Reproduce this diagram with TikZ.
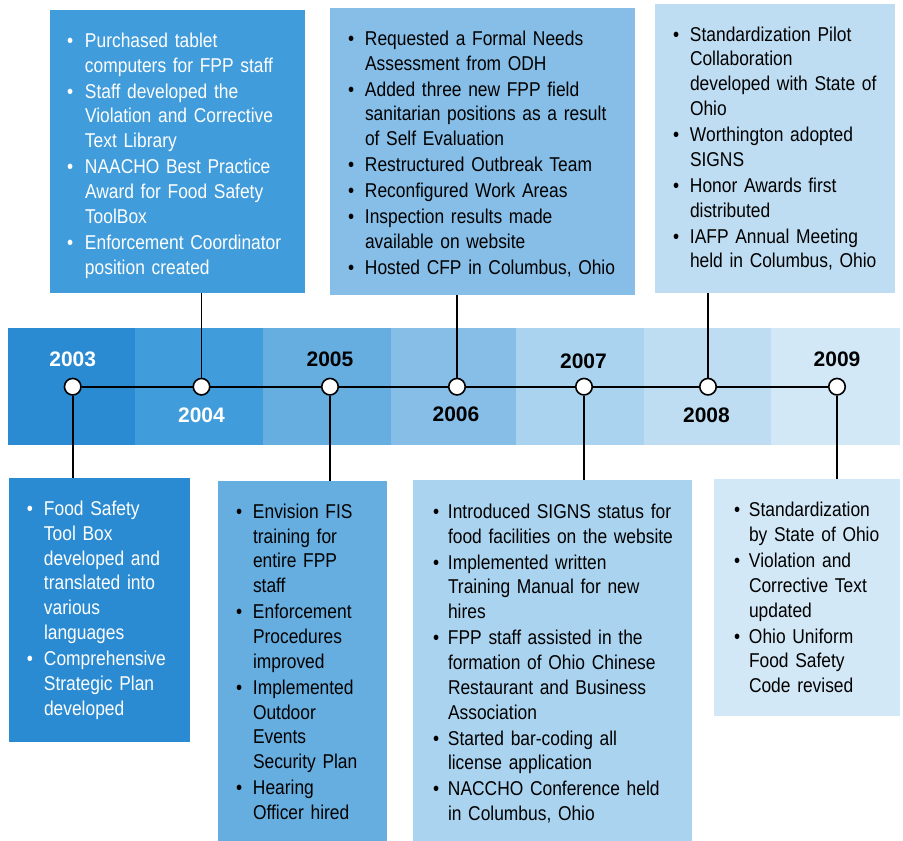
\documentclass[tikz,border=0pt]{standalone}
\usepackage{fontspec}
\setmainfont{Liberation Sans}[FakeStretch=0.87]
\newfontfamily\yearfont{Liberation Sans}
\usetikzlibrary{backgrounds}
\definecolor{cA}{HTML}{2A8BD2}
\definecolor{cB}{HTML}{409CDB}
\definecolor{cC}{HTML}{66AEE0}
\definecolor{cD}{HTML}{86BEE7}
\definecolor{cE}{HTML}{AAD3EF}
\definecolor{cF}{HTML}{BEDDF2}
\definecolor{cG}{HTML}{D3E8F6}
\newlength\bltoff
\setlength\bltoff{18pt}
\newcommand{\bitem}[1]{\par\hangindent=35pt\hangafter=1\noindent\strut\makebox[35pt][l]{\hspace{\bltoff}\textbullet}{\let\\\newline #1}\strut\par}
\tikzset{
  boxnode/.style={draw=none, inner sep=0pt, outer sep=0pt, anchor=north west},
  txtnode/.style={inner sep=0pt, outer sep=0pt, anchor=north west, text width=#1, align=left,
    font=\fontsize{20}{24.8}\selectfont\setlength{\parskip}{1.2pt}},
  dotnode/.style={circle, draw=black, fill=white, line width=1.6pt, minimum size=16.5pt, inner sep=0pt},
  yearlabel/.style={font=\yearfont\bfseries\fontsize{21}{21}\selectfont, anchor=base, inner sep=0pt},
  conn/.style={line width=1.6pt, black}
}
\begin{document}
\begin{tikzpicture}[x=1pt,y=1pt]
\useasboundingbox (0,0) rectangle (903,-841);
% milestone circles
\node[dotnode] (c2003) at (72.7,-386.7) {};
\node[dotnode] (c2004) at (201.5,-386.7) {};
\node[dotnode] (c2005) at (330,-386.7) {};
\node[dotnode] (c2006) at (457,-386.7) {};
\node[dotnode] (c2007) at (584,-386.7) {};
\node[dotnode] (c2008) at (708,-386.7) {};
\node[dotnode] (c2009) at (837,-386.7) {};
% years
\node[yearlabel, white] (y2003) at (72.7,-366.5) {2003};
\node[yearlabel, white] (y2004) at (201.5,-422) {2004};
\node[yearlabel] (y2005) at (330,-366.5) {2005};
\node[yearlabel] (y2006) at (456,-421) {2006};
\node[yearlabel] (y2007) at (583.5,-368) {2007};
\node[yearlabel] (y2008) at (706.5,-422.5) {2008};
\node[yearlabel] (y2009) at (837,-366.5) {2009};
% boxes
\node[boxnode, fill=cB, minimum width=255pt, minimum height=283pt] (b2004) at (50,-10) {};
\node[boxnode, fill=cD, minimum width=305pt, minimum height=287pt] (b2006) at (330,-8) {};
\node[boxnode, fill=cF, minimum width=240pt, minimum height=289pt] (b2008) at (655,-4) {};
\node[boxnode, fill=cA, minimum width=181pt, minimum height=264pt] (b2003) at (9,-478) {};
\node[boxnode, fill=cC, minimum width=169pt, minimum height=360pt] (b2005) at (218,-481) {};
\node[boxnode, fill=cE, minimum width=279pt, minimum height=362pt] (b2007) at (413,-480) {};
\node[boxnode, fill=cG, minimum width=186pt, minimum height=237pt] (b2009) at (714,-479) {};
% texts
\node[txtnode=300pt, text=white] (t2004) at ([yshift=-11.2pt]b2004.north west) {%
\setlength\bltoff{17pt}%
\bitem{Purchased tablet\\computers for FPP staff}
\bitem{Staff developed the\\Violation and Corrective\\Text Library}
\bitem{NAACHO Best Practice\\Award for Food Safety\\ToolBox}
\bitem{Enforcement Coordinator\\position created}};
\node[txtnode=340pt] (t2006) at ([yshift=-11.2pt]b2006.north west) {%
\bitem{Requested a Formal Needs\\Assessment from ODH}
\bitem{Added three new FPP field\\sanitarian positions as a result\\of Self Evaluation}
\bitem{Restructured Outbreak Team}
\bitem{Reconfigured Work Areas}
\bitem{Inspection results made\\available on website}
\bitem{Hosted CFP in Columbus, Ohio}};
\node[txtnode=280pt] (t2008) at ([yshift=-11pt]b2008.north west) {%
\bitem{Standardization Pilot\\Collaboration\\developed with State of\\Ohio}
\bitem{Worthington adopted\\SIGNS}
\bitem{Honor Awards first\\distributed}
\bitem{IAFP Annual Meeting\\held in Columbus, Ohio}};
\node[txtnode=220pt, text=white] (t2003) at ([yshift=-11.4pt]b2003.north west) {%
\bitem{Food Safety\\Tool Box\\developed and\\translated into\\various\\languages}
\bitem{Comprehensive\\Strategic Plan\\developed}};
\node[txtnode=210pt] (t2005) at ([yshift=-11.3pt]b2005.north west) {%
\bitem{Envision FIS\\training for\\entire FPP\\staff}
\bitem{Enforcement\\Procedures\\improved}
\bitem{Implemented\\Outdoor\\Events\\Security Plan}
\bitem{Hearing\\Officer hired}};
\node[txtnode=320pt] (t2007) at ([yshift=-12.2pt]b2007.north west) {%
\setlength\bltoff{20pt}%
\bitem{Introduced SIGNS status for\\food facilities on the website}
\bitem{Implemented written\\Training Manual for new\\hires}
\bitem{FPP staff assisted in the\\formation of Ohio Chinese\\Restaurant and Business\\Association}
\bitem{Started bar-coding all\\license application}
\bitem{NACCHO Conference held\\in Columbus, Ohio}};
\node[txtnode=230pt] (t2009) at ([yshift=-11.7pt]b2009.north west) {%
\setlength\bltoff{20pt}%
\bitem{Standardization\\by State of Ohio}
\bitem{Violation and\\Corrective Text\\updated}
\bitem{Ohio Uniform\\Food Safety\\Code revised}};
% band and connectors
\begin{scope}[on background layer]
\fill[cA] (8,-328) rectangle (135,-445);
\fill[cB] (135,-328) rectangle (263,-445);
\fill[cC] (263,-328) rectangle (391,-445);
\fill[cD] (391,-328) rectangle (516,-445);
\fill[cE] (516,-328) rectangle (644,-445);
\fill[cF] (644,-328) rectangle (771,-445);
\fill[cG] (771,-328) rectangle (900,-445);
\draw[conn] (c2003) -- (c2009);
\draw[conn] (c2004) -- (c2004 |- b2004.south);
\draw[conn] (c2006) -- (c2006 |- b2006.south);
\draw[conn] (c2008) -- (c2008 |- b2008.south);
\draw[conn] (c2003) -- (c2003 |- b2003.north);
\draw[conn] (c2005) -- (c2005 |- b2005.north);
\draw[conn] (c2007) -- (c2007 |- b2007.north);
\draw[conn] (c2009) -- (c2009 |- b2009.north);
\end{scope}
\end{tikzpicture}
\end{document}
